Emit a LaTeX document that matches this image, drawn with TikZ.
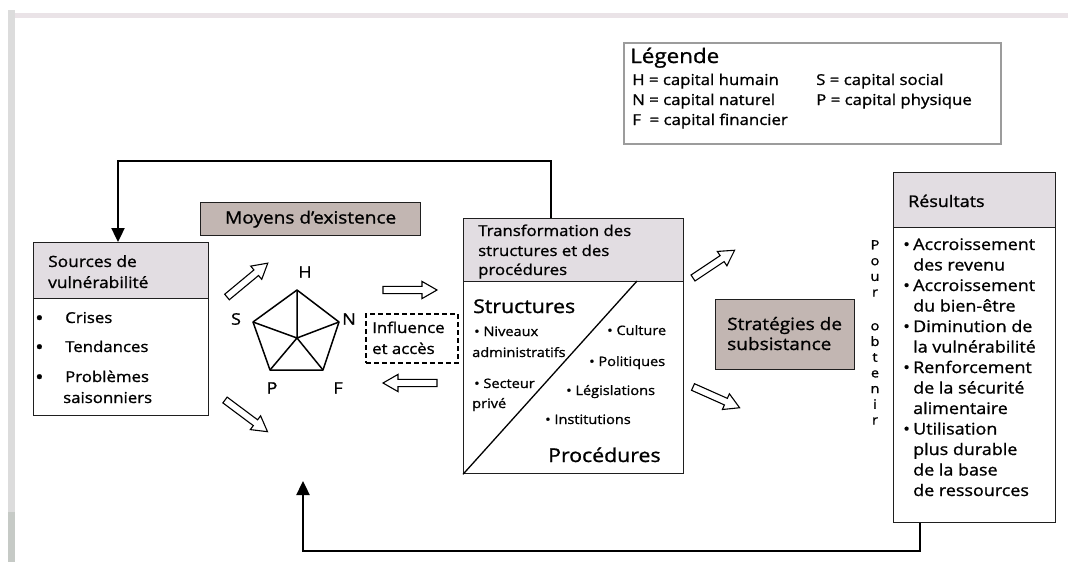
\documentclass[tikz,border=0pt]{standalone}
\usepackage{fontspec}
\setmainfont{Open Sans}[FakeStretch=1.12, FakeBold=1.1]
\usetikzlibrary{arrows.meta}

\definecolor{hdr}{HTML}{E2DDE2}
\definecolor{taupe}{HTML}{C2B6B2}
\definecolor{framegray}{HTML}{DCDCDC}
\definecolor{framedark}{HTML}{C6CAC6}
\definecolor{framepink}{HTML}{EAE3E7}
\definecolor{legendgray}{HTML}{9C9C9C}

% one line of text, placed by its baseline
\newcommand{\putline}[5][]{\node[txt,#1] (#2) at (#3,#4) {#5};}

\begin{document}
\begin{tikzpicture}[x=1pt,y=-1pt,
  box/.style={draw=black!88, line width=1.3pt, inner sep=0pt, anchor=north west},
  headbox/.style={box, fill=hdr},
  darkbox/.style={box, fill=taupe},
  txt/.style={anchor=base west, inner sep=0pt, font=\fontsize{15}{18}\selectfont},
  fb/.style={line width=2.4pt, line join=miter, -{Triangle[width=13pt,length=14pt]}},
  harrow/.style={draw=black, line width=1.1pt, fill=white, line join=miter},
  pics/hollow/.style={code={%
    \draw[harrow] (0,-3.6) -- ({#1-15},-3.6) -- ({#1-15},-8.6) -- (#1,0)
      -- ({#1-15},8.6) -- ({#1-15},3.6) -- (0,3.6) -- cycle;}},
  pent/.style={line width=1.5pt, line join=round}
]
\useasboundingbox (0,0) rectangle (1068,562);
\fill[white] (0,0) rectangle (1068,562);

% page frame
\fill[framepink] (8,13) rectangle (1068,18);
\fill[framegray] (8,10) rectangle (15,512);
\fill[framedark] (8,512) rectangle (15,562);

% ---------- legend ----------
\node[draw=legendgray, line width=1.8pt, anchor=north west, minimum width=377pt,
      minimum height=101pt, inner sep=0pt] (legend) at (623,42) {};
\putline[font=\fontsize{20}{22}\selectfont]{legTitle}{630}{63}{Légende}
\putline{legH}{632}{85}{H = capital humain}
\putline{legN}{632}{105}{N = capital naturel}
\putline{legF}{632}{125}{F\ \ = capital financier}
\putline{legS}{816}{85}{S = capital social}
\putline{legP}{816}{105}{P = capital physique}

% ---------- sources of vulnerability ----------
\node[headbox, minimum width=175pt, minimum height=56pt] (srcHead) at (33,242) {};
\node[box, minimum width=175pt, minimum height=117pt] (src) at (33,298) {};
\putline[font=\fontsize{15.5}{18}\selectfont]{srcT1}{48}{267}{Sources de}
\putline[font=\fontsize{15.5}{18}\selectfont]{srcT2}{48}{288}{vulnérabilité}
\putline[font=\fontsize{20}{18}\selectfont]{srcB1}{35}{325}{•}
\putline{srcI1}{65}{323}{Crises}
\putline[font=\fontsize{20}{18}\selectfont]{srcB2}{35}{354}{•}
\putline{srcI2}{65}{352}{Tendances}
\putline[font=\fontsize{20}{18}\selectfont]{srcB3}{35}{384}{•}
\putline{srcI3}{65}{382}{Problèmes}
\putline{srcI4}{63}{403}{saisonniers}

% ---------- livelihood assets ----------
\node[darkbox, minimum width=220pt, minimum height=33pt] (assets) at (200,202) {};
\node[font=\fontsize{17}{20}\selectfont, inner sep=0pt] (assetsT) at (assets.center) {Moyens d’existence};

\coordinate (pH) at (297,290);
\coordinate (pN) at (339,322);
\coordinate (pF) at (323,370);
\coordinate (pP) at (270,370);
\coordinate (pS) at (253,322);
\coordinate (pC) at (297,338);
\draw[pent] (pH) -- (pN) -- (pF) -- (pP) -- (pS) -- cycle;
\draw[pent] (pC) -- (pH) (pC) -- (pN) (pC) -- (pF) (pC) -- (pP) (pC) -- (pS);
\node[font=\fontsize{16}{18}\selectfont, inner sep=0pt] (lH) at (305,272) {H};
\node[font=\fontsize{16}{18}\selectfont, inner sep=0pt] (lS) at (236,319) {S};
\node[font=\fontsize{16}{18}\selectfont, inner sep=0pt] (lN) at (349,319) {N};
\node[font=\fontsize{16}{18}\selectfont, inner sep=0pt] (lP) at (272,388) {P};
\node[font=\fontsize{16}{18}\selectfont, inner sep=0pt] (lF) at (338,388) {F};

\node[draw=black, line width=1.6pt, dash pattern=on 5pt off 3pt, anchor=north west,
      minimum width=92pt, minimum height=49pt, inner sep=0pt] (infl) at (365,313) {};
\putline{inflT1}{372}{333}{Influence}
\putline{inflT2}{372}{354}{et accès}

% hollow arrows
\pic[rotate=39.7] at (227,297) {hollow=53};
\pic[rotate=-36.7] at (225,400) {hollow=53};
\pic at (383,290) {hollow=54};
\pic[rotate=180] at (437,383) {hollow=54};
\pic[rotate=33.7] at (693,278) {hollow=50};
\pic[rotate=-24] at (693,387) {hollow=51};

% ---------- transforming structures and processes ----------
\node[headbox, minimum width=220pt, minimum height=63pt] (trHead) at (463,218) {};
\node[box, minimum width=220pt, minimum height=192pt] (tr) at (463,281) {};
\draw[line width=1.3pt] (tr.south west) -- (637,281);
\putline{trT1}{478}{236}{Transformation des}
\putline{trT2}{478}{256}{structures et des}
\putline{trT3}{478}{275}{procédures}
\putline[font=\fontsize{19}{22}\selectfont]{trS}{473}{313}{Structures}
\putline[font=\fontsize{13}{15}\selectfont]{trS1}{474}{336}{• Niveaux}
\putline[font=\fontsize{13}{15}\selectfont]{trS2}{472}{357}{administratifs}
\putline[font=\fontsize{13}{15}\selectfont]{trS3}{474}{388}{• Secteur}
\putline[font=\fontsize{13}{15}\selectfont]{trS4}{472}{408}{privé}
\putline[font=\fontsize{13}{15}\selectfont]{trP1}{607}{335}{• Culture}
\putline[font=\fontsize{13}{15}\selectfont]{trP2}{589}{366}{• Politiques}
\putline[font=\fontsize{13}{15}\selectfont]{trP3}{566}{395}{• Législations}
\putline[font=\fontsize{13}{15}\selectfont]{trP4}{545}{424}{• Institutions}
\putline[font=\fontsize{19}{22}\selectfont]{trP}{548}{462}{Procédures}

% ---------- livelihood strategies ----------
\node[darkbox, minimum width=139pt, minimum height=70pt] (strat) at (715,299) {};
\putline[font=\fontsize{17}{20}\selectfont]{stT1}{727}{330}{Stratégies de}
\putline[font=\fontsize{17}{20}\selectfont]{stT2}{727}{350}{subsistance}

% "Pour obtenir", one letter per line
\node[anchor=north, inner sep=0pt, align=center,
      font=\fontsize{13}{15.7}\selectfont] (pour) at (875,240)
  {P\\o\\u\\r\\[18pt]o\\b\\t\\e\\n\\i\\r};

% ---------- outcomes ----------
\node[headbox, minimum width=162pt, minimum height=55pt] (resHead) at (893,172) {};
\node[box, minimum width=162pt, minimum height=295pt] (res) at (893,227) {};
\putline[font=\fontsize{16}{18}\selectfont]{resT}{908}{207}{Résultats}
\begin{scope}[txt/.append style={font=\fontsize{16}{18}\selectfont}]
\putline{rb1}{903}{250}{•}
\putline{r1}{913}{250}{Accroissement}
\putline{r2}{913}{270.5}{des revenu}
\putline{rb2}{903}{291}{•}
\putline{r3}{913}{291}{Accroissement}
\putline{r4}{913}{311.5}{du bien-être}
\putline{rb3}{903}{332}{•}
\putline{r5}{913}{332}{Diminution de}
\putline{r6}{913}{352.5}{la vulnérabilité}
\putline{rb4}{903}{373}{•}
\putline{r7}{913}{373}{Renforcement}
\putline{r8}{913}{393.5}{de la sécurité}
\putline{r9}{913}{414}{alimentaire}
\putline{rb5}{903}{434.5}{•}
\putline{r10}{913}{434.5}{Utilisation}
\putline{r11}{913}{455}{plus durable}
\putline{r12}{913}{475.5}{de la base}
\putline{r13}{913}{496}{de ressources}
\end{scope}

% ---------- feedback loops ----------
\coordinate (topR) at (551,161);
\coordinate (topL) at (118,161);
\draw[fb] (trHead.north -| topR) -- (topR) -- (topL) -- (srcHead.north -| topL);

\coordinate (botR) at (920,551);
\coordinate (botL) at (303,551);
\coordinate (botTip) at (303,481);
\draw[fb] (res.south -| botR) -- (botR) -- (botL) -- (botTip);
\end{tikzpicture}
\end{document}
